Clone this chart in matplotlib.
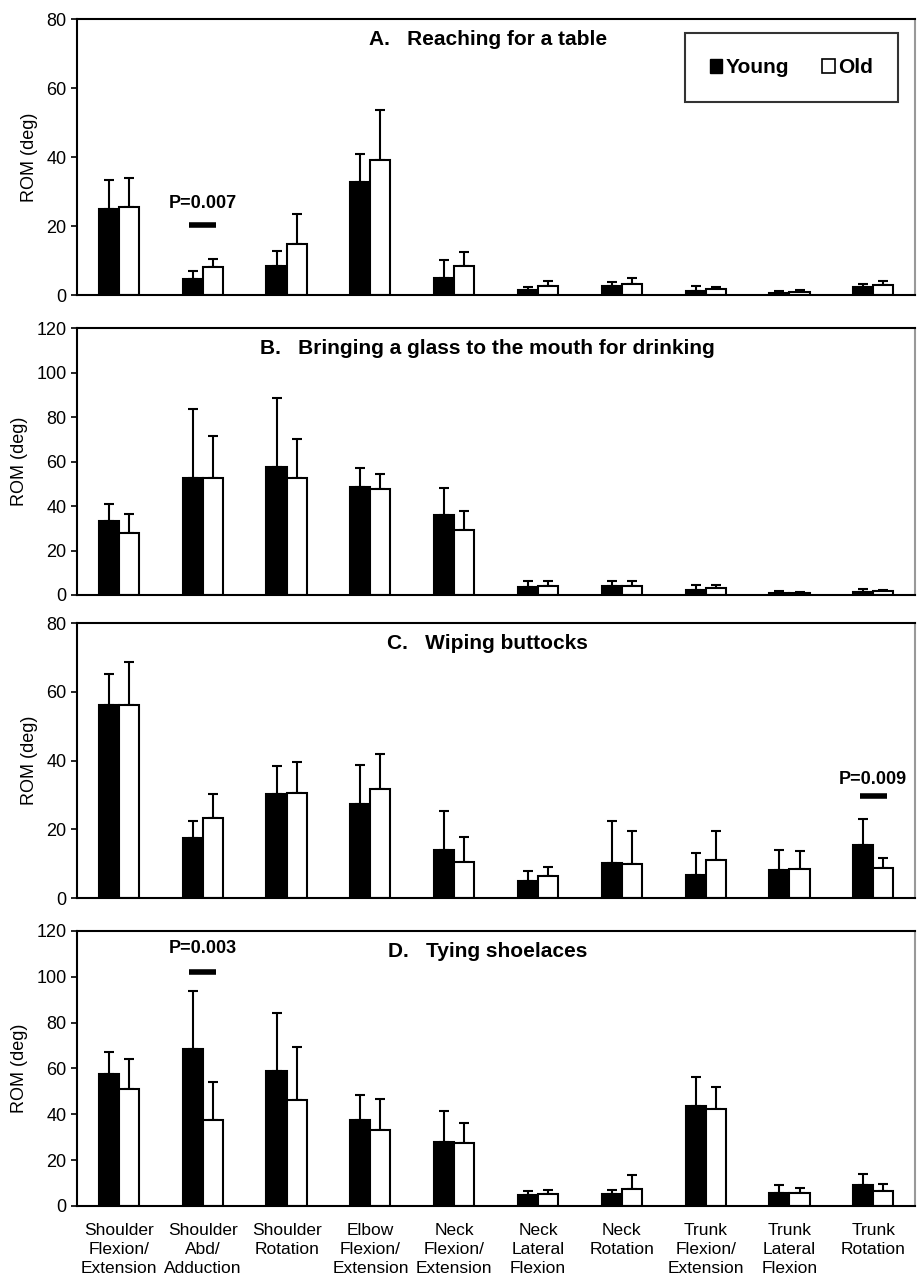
import numpy as np
import matplotlib
matplotlib.use('Agg')
import matplotlib.pyplot as plt
from matplotlib.patches import Patch

plt.rcParams['font.family'] = ['Liberation Sans', 'DejaVu Sans']

categories = ['Shoulder\nFlexion/\nExtension', 'Shoulder\nAbd/\nAdduction',
              'Shoulder\nRotation', 'Elbow\nFlexion/\nExtension',
              'Neck\nFlexion/\nExtension', 'Neck\nLateral\nFlexion',
              'Neck\nRotation', 'Trunk\nFlexion/\nExtension',
              'Trunk\nLateral\nFlexion', 'Trunk\nRotation']

titles = ['A.   Reaching for a table',
          'B.   Bringing a glass to the mouth for drinking',
          'C.   Wiping buttocks',
          'D.   Tying shoelaces']
ymax = [80, 120, 80, 120]

# mean and SD per panel
young_mean = [
    [25.0, 4.7, 8.4, 32.7, 4.9, 1.5, 2.6, 1.3, 0.5, 2.4],
    [33.4, 52.7, 57.6, 48.6, 35.9, 3.7, 4.0, 2.4, 0.7, 1.3],
    [56.1, 17.4, 30.3, 27.3, 13.9, 5.1, 10.2, 6.7, 8.1, 15.3],
    [57.7, 68.5, 58.9, 37.7, 27.8, 4.8, 5.1, 43.8, 5.7, 9.0],
]
young_sd = [
    [8.3, 2.4, 4.5, 8.1, 5.2, 0.7, 1.1, 1.2, 0.6, 0.9],
    [7.4, 30.8, 30.8, 8.3, 12.4, 2.4, 2.1, 1.9, 1.1, 1.4],
    [9.0, 5.1, 8.2, 11.4, 11.5, 2.7, 12.1, 6.5, 6.0, 7.7],
    [9.6, 25.3, 25.3, 10.6, 13.5, 1.9, 2.0, 12.3, 3.3, 5.0],
]
old_mean = [
    [25.4, 8.0, 14.8, 39.1, 8.4, 2.7, 3.1, 1.7, 0.9, 2.9],
    [28.0, 52.4, 52.4, 47.6, 29.3, 4.2, 4.0, 3.1, 0.9, 1.8],
    [56.1, 23.2, 30.6, 31.6, 10.4, 6.5, 9.9, 11.2, 8.5, 8.6],
    [50.9, 37.7, 46.4, 33.2, 27.6, 5.2, 7.4, 42.2, 5.7, 6.5],
]
old_sd = [
    [8.6, 2.5, 8.8, 14.6, 4.0, 1.4, 1.7, 0.5, 0.6, 1.2],
    [8.2, 19.0, 17.8, 6.6, 8.3, 2.2, 2.3, 1.2, 0.4, 0.4],
    [12.6, 7.0, 9.0, 10.2, 7.5, 2.6, 9.5, 8.2, 5.2, 3.0],
    [13.1, 16.6, 23.0, 13.5, 8.6, 1.6, 6.1, 9.7, 2.2, 3.2],
]

# significance markers: (panel, category index, bar level, text level, label)
sig_panel = [0, 2, 3]
sig_cat = [1, 9, 1]
sig_level = [20.4, 29.6, 102.0]
sig_text_level = [26.5, 34.4, 112.4]
sig_text = ['P=0.007', 'P=0.009', 'P=0.003']

fig = plt.figure(figsize=(9.17, 12.76), dpi=100)
boxes = [(0.7688, 0.2163), (0.5337, 0.2092), (0.2962, 0.2155), (0.0549, 0.2155)]

x = np.arange(len(categories))
w = 0.24
for i in range(4):
    ax = fig.add_axes([0.084, boxes[i][0], 0.914, boxes[i][1]])
    ax.bar(x - w / 2, young_mean[i], w, color='black', edgecolor='black',
           linewidth=1.5, zorder=2)
    ax.bar(x + w / 2, old_mean[i], w, color='white', edgecolor='black',
           linewidth=1.5, zorder=2)
    ax.errorbar(x - w / 2, young_mean[i], yerr=[np.zeros(10), young_sd[i]],
                fmt='none', ecolor='black', elinewidth=1.5, capsize=3.5,
                capthick=1.5, zorder=1)
    ax.errorbar(x + w / 2, old_mean[i], yerr=[np.zeros(10), old_sd[i]],
                fmt='none', ecolor='black', elinewidth=1.5, capsize=3.5,
                capthick=1.5, zorder=1)

    ax.set_xlim(-0.5, 9.5)
    ax.set_ylim(0, ymax[i])
    ax.set_yticks(np.arange(0, ymax[i] + 1, 20))
    ax.tick_params(axis='y', labelsize=13, direction='out', length=4,
                   width=1.2)
    ax.set_ylabel('ROM (deg)', fontsize=13, labelpad=6)
    for s in ax.spines.values():
        s.set_linewidth(1.5)
    ax.spines['right'].set_color('#999999')

    ax.text(0.49, 0.925, titles[i], transform=ax.transAxes, ha='center',
            va='center', fontsize=15, fontweight='bold')

    if i == 3:
        ax.set_xticks(x)
        ax.set_xticklabels(categories, fontsize=12.5, linespacing=1.35)
        ax.tick_params(axis='x', length=0, pad=12)
    else:
        ax.set_xticks([])

    for p, c, lv, tl, t in zip(sig_panel, sig_cat, sig_level,
                               sig_text_level, sig_text):
        if p == i:
            ax.plot([c - 0.16, c + 0.16], [lv, lv], color='black', lw=4,
                    solid_capstyle='butt')
            ax.text(c, tl, t, ha='center', va='center', fontsize=13,
                    fontweight='bold')

    if i == 0:
        handles = [Patch(facecolor='black', edgecolor='black'),
                   Patch(facecolor='white', edgecolor='black', linewidth=1.2)]
        leg = ax.legend(handles, ['Young', 'Old'], ncol=2, loc='upper right',
                        bbox_to_anchor=(0.979, 0.948), frameon=True,
                        fancybox=False, edgecolor='black',
                        prop={'weight': 'bold', 'size': 15},
                        handlelength=0.6, handleheight=0.6,
                        handletextpad=0.15, columnspacing=1.6,
                        borderpad=1.2, borderaxespad=0)
        leg.get_frame().set_linewidth(1.5)

fig.savefig('out.png', dpi=100)
